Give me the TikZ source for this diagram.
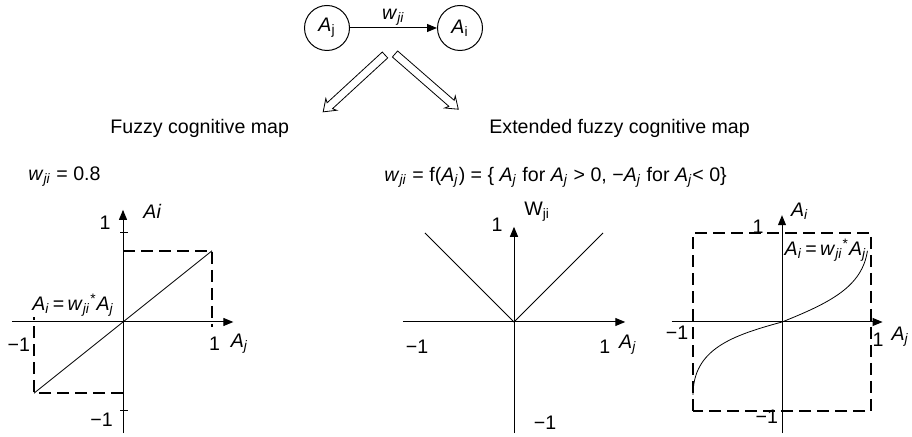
\documentclass[tikz,border=0pt]{standalone}
\usepackage{fontspec}
\setmainfont{Liberation Sans}
\usetikzlibrary{positioning,arrows.meta}
\newcommand{\fcfont}{\fontsize{9.8pt}{11.5pt}\selectfont}
\newcommand{\fcvar}[2]{\textit{#1}\textsubscript{\textit{#2}}}
\newcommand{\fcnode}[2]{\textit{#1}\textsubscript{#2}}
\tikzset{
  fc-axis/.style={line width=0.5pt, -{Triangle[length=5pt,width=4pt]}},
  fc-flow/.style={line width=0.5pt, -{Triangle[length=5pt,width=4pt]}},
  fc-dash/.style={line width=1pt, dash pattern=on 6pt off 3pt},
  fc-line/.style={line width=0.4pt},
  fc-tick/.style={line width=0.5pt},
  fc-label/.style={font=\fcfont, inner sep=1pt},
  fc-state/.style={circle, draw, line width=0.5pt, minimum size=22.5pt,
    inner sep=0pt, font=\fcfont},
  fc-hollow/.style={draw, line width=0.4pt, line join=miter}
}
\begin{document}
\begin{tikzpicture}[x=0.5pt, y=-0.5pt]
\useasboundingbox (0,0) rectangle (912,437);

% Neurons
\node[fc-state] (aj) at (327,28) {\fcnode{A}{j}};
\node[fc-state] (ai) at (460,28) {\fcnode{A}{i}};
\draw[fc-flow] (aj) -- node[fc-label, above=0pt] (wji) {\fcvar{w}{ji}} (ai);

% Split arrows
\begin{scope}[shift={(385,55)}, rotate=222.6]
\draw[fc-hollow] (0,-4) -- (75,-4) -- (73,-8) -- (84,0) -- (73,8)
  -- (75,4) -- (0,4) -- cycle;
\end{scope}
\begin{scope}[shift={(395,54)}, rotate=-41.1]
\draw[fc-hollow] (0,-4) -- (75,-4) -- (73,-8) -- (84,0) -- (73,8)
  -- (75,4) -- (0,4) -- cycle;
\end{scope}

% Titles
\node[fc-label, anchor=west] (title-l) at (108,128) {Fuzzy cognitive map};
\node[fc-label, anchor=west] (title-r) at (487,128)
  {Extended fuzzy cognitive map};
\node[fc-label, anchor=west] (rule-l) at (26,177) {\fcvar{w}{ji} = 0.8};
\node[fc-label, anchor=west] (rule-r) at (382,177)
  {\fcvar{w}{ji} = f(\fcvar{A}{j}) = \{ \fcvar{A}{j} for \fcvar{A}{j} > 0,
  −\fcvar{A}{j} for \fcvar{A}{j}< 0\}};

% Linear map
\begin{scope}[shift={(123,322)}, x=44.5pt, y=44.5pt]
\draw[fc-axis] (-1.25,0) -- (1.24,0);
\draw[fc-axis] (0,-1.25) -- (0,1.26);
\draw[fc-tick] (-0.03,1) -- (0.06,1);
\draw[fc-tick] (-0.03,-1) -- (0.06,-1);
\draw[fc-dash] (0,0.8) -- (1,0.8) -- (1,-0.06);
\draw[fc-dash] (0,-0.8) -- (-1,-0.8) -- (-1,0.06);
\draw[fc-line] (-1,-0.8) -- (1,0.8);
\node[fc-label] (l-y1) at (-0.2,1.11) {1};
\node[fc-label] (l-ym) at (-0.24,-1.10) {−1};
\node[fc-label] (l-xm) at (-1.17,-0.26) {−1};
\node[fc-label] (l-x1) at (1.03,-0.24) {1};
\node[fc-label] (l-xn) at (1.31,-0.24) {\fcvar{A}{j}};
\node[fc-label] (l-yn) at (0.33,1.24) {\textit{Ai}};
\node[fc-label] (l-eq) at (-0.56,0.19)
  {\fcvar{A}{i}\,=\,\fcvar{w}{ji}\textsuperscript{*}\fcvar{A}{j}};
\end{scope}

% Weight function
\begin{scope}[shift={(514,322)}, x=44.5pt, y=44.5pt]
\draw[fc-axis] (-1.25,0) -- (1.25,0);
\draw[fc-axis] (0,-1.25) -- (0,1.07);
\draw[fc-line] (-1,1) -- (0,0) -- (1,1);
\node[fc-label] (m-y1) at (-0.19,1.09) {1};
\node[fc-label] (m-yn) at (0.26,1.24) {W\textsubscript{ji}};
\node[fc-label] (m-xm) at (-1.09,-0.28) {−1};
\node[fc-label] (m-x1) at (1.02,-0.28) {1};
\node[fc-label] (m-xn) at (1.28,-0.26) {\fcvar{A}{j}};
\node[fc-label] (m-ym) at (0.35,-1.13) {−1};
\end{scope}

% Extended map
\begin{scope}[shift={(782,322)}, x=44.5pt, y=44.5pt]
\draw[fc-axis] (-1.24,0) -- (1.13,0);
\draw[fc-axis] (0,-1.25) -- (0,1.2);
\draw[fc-dash] (-1,-1) rectangle (1,1);
\draw[fc-line] (-1,-0.82) .. controls (-1,-0.3) and (-0.55,-0.15) .. (0,0)
  .. controls (0.55,0.22) and (0.9,0.4) .. (0.96,0.8);
\node[fc-label] (r-yn) at (0.2,1.24) {\fcvar{A}{i}};
\node[fc-label] (r-y1) at (-0.27,1.07) {1};
\node[fc-label] (r-eq) at (0.49,0.81)
  {\fcvar{A}{i}\,=\,\fcvar{w}{ji}\textsuperscript{*}\fcvar{A}{j}};
\node[fc-label] (r-xm) at (-1.18,-0.12) {−1};
\node[fc-label] (r-x1) at (1.08,-0.2) {1};
\node[fc-label] (r-xn) at (1.33,-0.17) {\fcvar{A}{j}};
\node[fc-label] (r-ym) at (-0.17,-1.07) {−1};
\end{scope}
\end{tikzpicture}
\end{document}
